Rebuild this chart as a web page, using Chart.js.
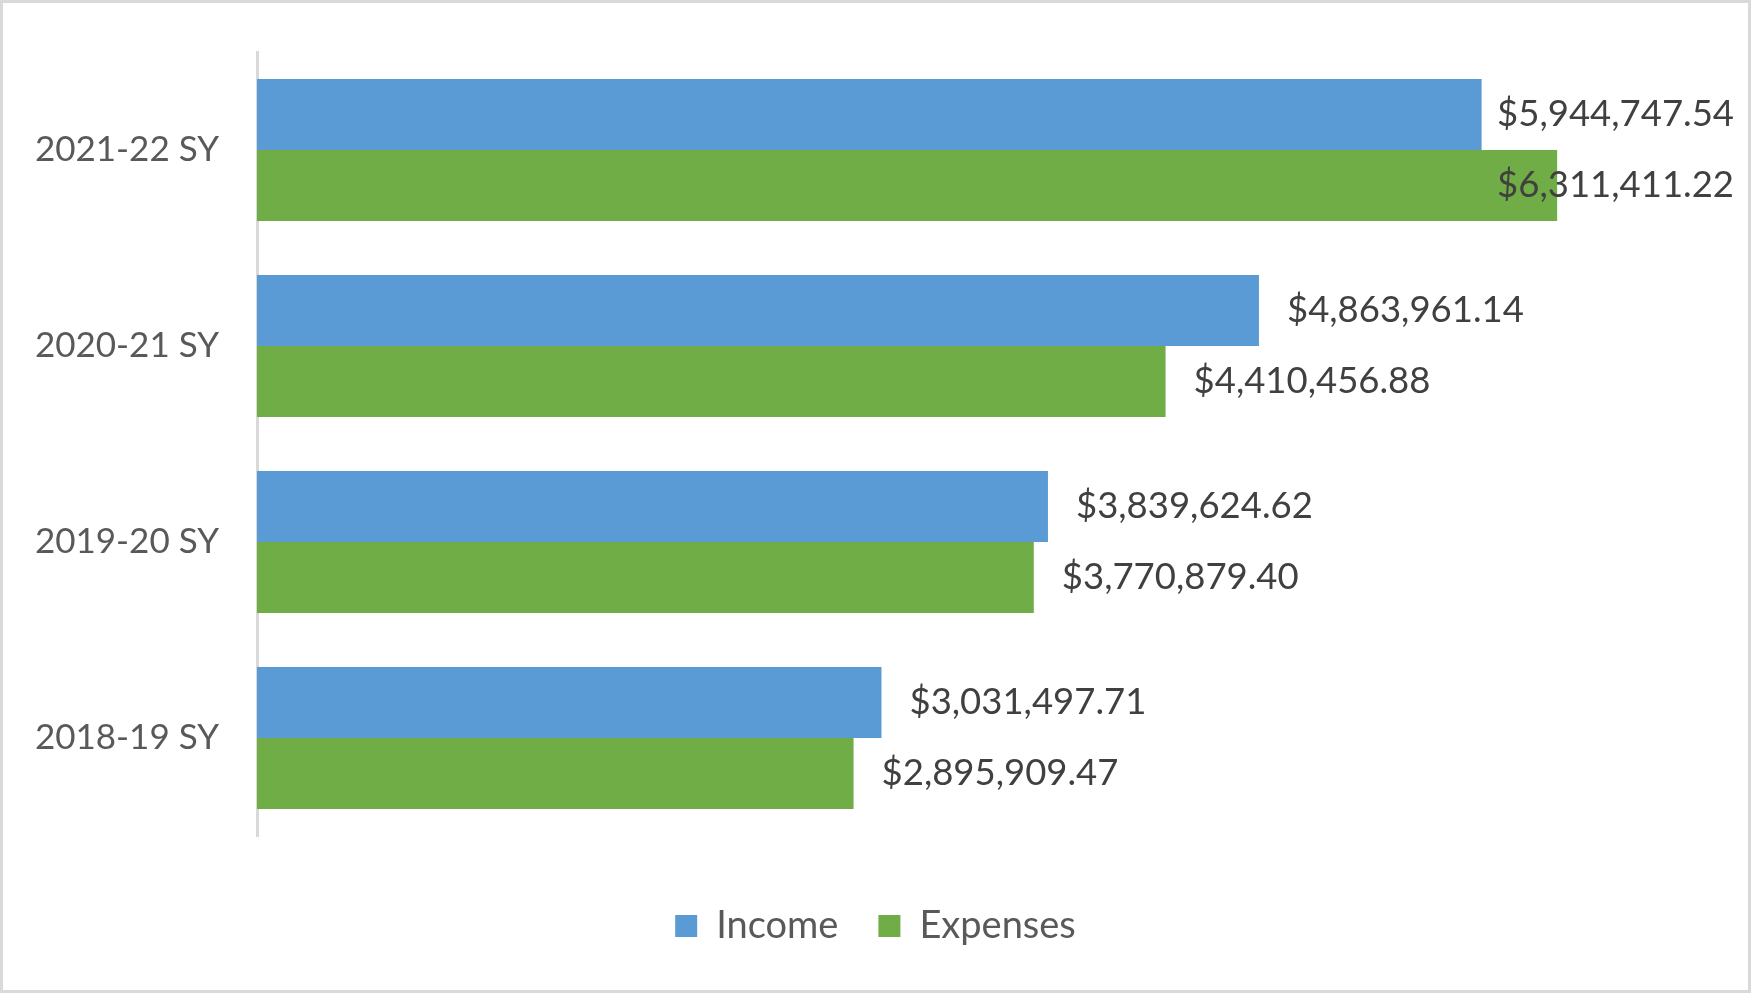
<!DOCTYPE html>
<html>
<head>
<meta charset="utf-8">
<title>Income vs Expenses</title>
<script src="https://cdn.jsdelivr.net/npm/chart.js@4.4.1/dist/chart.umd.min.js"></script>
<style>
  html, body { margin: 0; padding: 0; background: #ffffff; }
  #frame {
    width: 1751px; height: 993px;
    box-sizing: border-box;
    border: 3px solid #d9d9d9;
    background: #ffffff;
  }
  #chart { display: block; }
</style>
</head>
<body>
<div id="frame"><canvas id="chart" width="1745" height="987"></canvas></div>
<script>
// School years, top to bottom as shown
const years = ['2021-22 SY', '2020-21 SY', '2019-20 SY', '2018-19 SY'];
const income = [5944747.54, 4863961.14, 3839624.62, 3031497.71];
const expenses = [6311411.22, 4410456.88, 3770879.40, 2895909.47];
const axisMax = 7000000;

const FONT = 'Lato, "Open Sans", sans-serif';
const TEXT = '#595959';

function money(v) {
    return '$' + v.toLocaleString('en-US', { minimumFractionDigits: 2, maximumFractionDigits: 2 });
}

// Value labels next to the bar ends (kept inside the frame)
const valueLabels = {
    id: 'valueLabels',
    afterDatasetsDraw(chart) {
        const ctx = chart.ctx;
        const limit = chart.width - 14;
        ctx.save();
        ctx.font = '36.5px ' + FONT;
        ctx.fillStyle = '#404040';
        ctx.textBaseline = 'middle';
        ctx.textAlign = 'left';
        chart.data.datasets.forEach((ds, i) => {
            chart.getDatasetMeta(i).data.forEach((bar, j) => {
                const txt = money(ds.data[j]);
                const w = ctx.measureText(txt).width;
                let x = bar.x + 28;
                if (x + w > limit) x = limit - w;
                ctx.fillText(txt, x, bar.y);
            });
        });
        ctx.restore();
    }
};

new Chart(document.getElementById('chart'), {
    type: 'bar',
    data: {
        labels: years,
        datasets: [{
            label: 'Income',
            data: income,
            backgroundColor: '#5b9bd5',
            borderWidth: 0
        }, {
            label: 'Expenses',
            data: expenses,
            backgroundColor: '#70ad47',
            borderWidth: 0
        }]
    },
    options: {
        indexAxis: 'y',
        responsive: false,
        animation: false,
        categoryPercentage: 0.724,
        barPercentage: 1.0,
        layout: {
            padding: { top: 49, right: 0, bottom: 35, left: 0 }
        },
        scales: {
            x: {
                // invisible spacer between the bars and the legend
                display: true,
                min: 0,
                max: axisMax,
                grid: { display: false },
                border: { display: false },
                ticks: { display: false },
                afterFit(scale) { scale.height = 31; }
            },
            y: {
                grid: { display: false, drawTicks: false },
                border: { display: true, color: '#d9d9d9', width: 3 },
                ticks: {
                    color: TEXT,
                    font: { family: FONT, size: 35 },
                    padding: 38
                },
                afterFit(scale) {
                    scale.width = 254;
                    scale.paddingTop = 0;
                    scale.paddingBottom = 0;
                }
            },
            yRight: {
                // invisible spacer on the right so the legend sits off-centre like the original
                type: 'category',
                position: 'right',
                display: true,
                grid: { display: false },
                border: { display: false },
                ticks: { display: false },
                afterFit(scale) { scale.width = 49; }
            }
        },
        plugins: {
            legend: {
                position: 'bottom',
                labels: {
                    color: TEXT,
                    font: { family: FONT, size: 38 },
                    boxWidth: 22,
                    boxHeight: 22,
                    padding: 40
                }
            },
            tooltip: { enabled: false }
        }
    },
    plugins: [valueLabels]
});
</script>
</body>
</html>
